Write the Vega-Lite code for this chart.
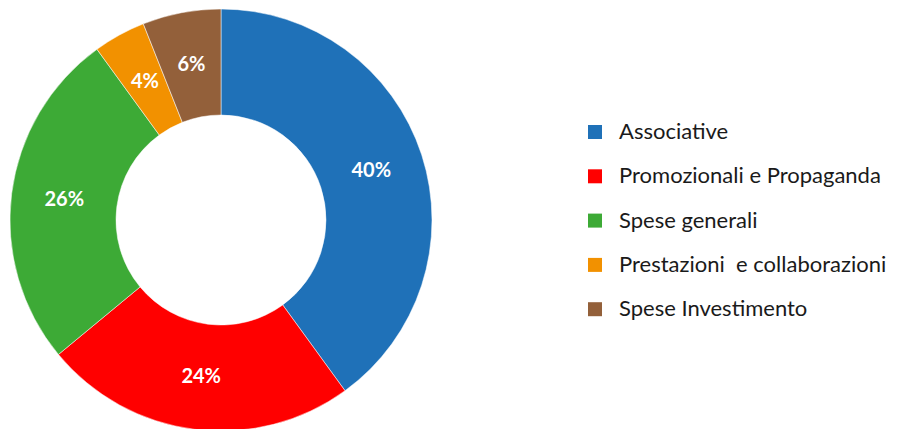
{
  "$schema": "https://vega.github.io/schema/vega-lite/v6.json",
  "width": 442,
  "height": 432,
  "autosize": {"type": "pad"},
  "padding": {"left": 0, "top": 4, "right": 0, "bottom": 0},
  "background": "#ffffff",
  "config": {"view": {"stroke": null}},
  "data": {
    "values": [
      {"categoria": "Associative", "valore": 40, "etichetta": "40%", "ordine": 1},
      {"categoria": "Promozionali e Propaganda", "valore": 24, "etichetta": "24%", "ordine": 2},
      {"categoria": "Spese generali", "valore": 26, "etichetta": "26%", "ordine": 3},
      {"categoria": "Prestazioni  e collaborazioni", "valore": 4, "etichetta": "4%", "ordine": 4},
      {"categoria": "Spese Investimento", "valore": 6, "etichetta": "6%", "ordine": 5}
    ]
  },
  "encoding": {
    "theta": {"field": "valore", "type": "quantitative", "stack": true},
    "order": {"field": "ordine", "type": "quantitative"},
    "color": {
      "field": "categoria",
      "type": "nominal",
      "scale": {
        "domain": ["Associative", "Promozionali e Propaganda", "Spese generali", "Prestazioni  e collaborazioni", "Spese Investimento"],
        "range": ["#1F71B8", "#FF0000", "#3DAA36", "#F29100", "#93603A"]
      },
      "legend": {
        "title": null,
        "orient": "none",
        "legendX": 584,
        "legendY": 117,
        "symbolType": "square",
        "symbolSize": 196,
        "symbolStrokeWidth": 0,
        "labelFont": "Lato",
        "labelFontSize": 22,
        "labelColor": "#1a1a1a",
        "labelOffset": 13,
        "rowPadding": 22.3,
        "labelLimit": 400,
        "labelExpr": "replace(datum.label, '  ', '\u00a0 ')"
      }
    }
  },
  "layer": [
    {
      "mark": {"type": "arc", "outerRadius": 211, "innerRadius": 105, "stroke": "#ffffff", "strokeWidth": 0.5}
    },
    {
      "mark": {"type": "text", "radius": 158, "font": "Lato", "fontSize": 20, "fontWeight": "bold", "fill": "#ffffff", "baseline": "middle", "align": "center"},
      "encoding": {
        "text": {"field": "etichetta", "type": "nominal"},
        "color": {"value": "#ffffff"}
      }
    }
  ]
}
